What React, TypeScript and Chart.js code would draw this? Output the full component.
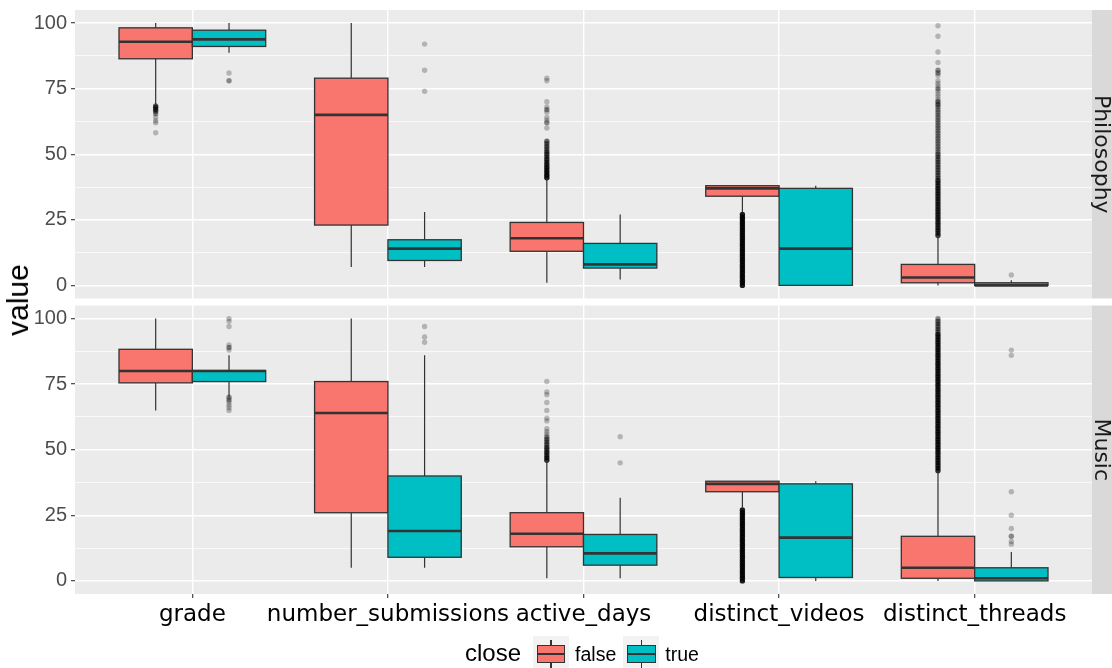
import React, { useEffect, useRef } from 'react';
import { Chart, registerables } from 'chart.js';

Chart.register(...registerables);

// ---------- data ----------
const categories = ['grade', 'number_submissions', 'active_days', 'distinct_videos', 'distinct_threads'];
const facets = ['Philosophy', 'Music'];
const groups = ['false', 'true'];
const yMajorTicks = [0, 25, 50, 75, 100];
const yMinorTicks = [12.5, 37.5, 62.5, 87.5];

// five-number summaries per category: [lower whisker, Q1, median, Q3, upper whisker]
const philosophyFalseStats = [
  [68.8, 86.4, 92.9, 98.2, 100],
  [7, 23, 65, 79, 100],
  [1, 13, 18, 24, 41],
  [28, 34, 37, 38, 38],
  [0, 1, 3, 8, 18.4],
];
const philosophyTrueStats = [
  [88.7, 91.1, 93.8, 97.3, 100],
  [7, 9.5, 14, 17.4, 28],
  [2.2, 6.6, 8, 16, 27],
  [0, 0, 14, 37, 38],
  [0, 0, 0, 1, 2],
];
const musicFalseStats = [
  [65, 75.5, 80, 88.3, 100],
  [5, 26, 64, 76, 100],
  [1, 13, 18, 26, 45.6],
  [28, 34, 37, 38, 38],
  [0, 1, 5, 17, 41.3],
];
const musicTrueStats = [
  [70, 76, 80, 80.2, 86],
  [5, 9, 19, 40, 86],
  [1, 6, 10.5, 17.7, 31.7],
  [0, 1.3, 16.5, 37, 38],
  [0, 0, 1, 5, 11],
];

// outliers per category: [value, number of overlapping observations]
const philosophyFalseOutliers = [
  [[68.4, 3], [67.9, 4], [67.1, 4], [66.4, 3], [65.4, 2], [64.1, 1], [62.8, 1], [62, 1], [58.2, 1]],
  [],
  [[41, 8], [42, 8], [43, 7], [44, 7], [45, 6], [46, 6], [47, 5], [48, 5], [49, 4], [50, 4], [51, 4], [52, 3], [53, 3], [54, 3], [55, 3],
   [60, 1], [62, 2], [63, 1], [64, 1], [66, 1], [67, 2], [68, 1], [70, 1], [78, 1], [79, 1]],
  [[0, 8], [1, 8], [2, 8], [3, 8], [4, 8], [5, 8], [6, 8], [7, 8], [8, 8], [9, 8], [10, 8], [11, 8], [12, 8], [13, 8],
   [14, 8], [15, 8], [16, 8], [17, 8], [18, 8], [19, 8], [20, 8], [21, 8], [22, 8], [23, 8], [24, 8], [25, 8], [26, 8], [27, 8]],
  [[19, 5], [20, 5], [21, 5], [22, 5], [23, 5], [24, 5], [25, 5], [26, 5], [27, 5], [28, 5], [29, 5], [30, 5], [31, 5], [32, 5],
   [33, 5], [34, 5], [35, 5], [36, 5], [37, 5], [38, 5], [39, 5], [40, 5], [41, 3], [42, 3], [43, 3], [44, 3], [45, 3], [46, 3],
   [47, 3], [48, 3], [49, 3], [50, 3], [51, 2], [52, 2], [53, 2], [54, 2], [55, 2], [56, 2], [57, 2], [58, 2], [59, 2], [60, 2],
   [61, 2], [62, 2], [63, 2], [64, 2], [65, 2], [66, 2], [67, 2], [68, 2], [69, 3], [70, 3], [71, 1], [72, 1], [73, 1], [74, 1],
   [75, 2], [76, 1], [77, 1], [78, 1], [80, 1], [81, 2], [82, 2], [85, 1], [89, 1], [95, 1], [99, 1]],
];
const philosophyTrueOutliers = [
  [[81, 1], [78, 2]],
  [[92, 1], [82, 1], [74, 1]],
  [],
  [],
  [[4, 1]],
];
const musicFalseOutliers = [
  [],
  [],
  [[46, 6], [47, 6], [48, 5], [49, 5], [50, 4], [51, 4], [52, 3], [53, 3], [54, 3], [55, 2], [56, 1], [57, 1], [58, 1],
   [61, 1], [62, 1], [65, 1], [68, 1], [71, 1], [72, 1], [76, 1]],
  [[0, 8], [1, 8], [2, 8], [3, 8], [4, 8], [5, 8], [6, 8], [7, 8], [8, 8], [9, 8], [10, 8], [11, 8], [12, 8], [13, 8],
   [14, 8], [15, 8], [16, 8], [17, 8], [18, 8], [19, 8], [20, 8], [21, 8], [22, 8], [23, 8], [24, 8], [25, 8], [26, 8], [27, 8]],
  [[42, 6], [43, 6], [44, 6], [45, 6], [46, 6], [47, 6], [48, 6], [49, 6], [50, 6], [51, 6], [52, 6], [53, 6], [54, 6], [55, 6],
   [56, 6], [57, 6], [58, 6], [59, 6], [60, 6], [61, 6], [62, 6], [63, 6], [64, 6], [65, 6], [66, 6], [67, 6], [68, 6], [69, 6],
   [70, 6], [71, 6], [72, 6], [73, 6], [74, 6], [75, 6], [76, 6], [77, 6], [78, 6], [79, 6], [80, 6], [81, 6], [82, 6], [83, 6],
   [84, 6], [85, 6], [86, 6], [87, 6], [88, 6], [89, 6], [90, 6], [91, 6], [92, 6], [93, 6], [94, 6], [95, 3], [96, 3], [97, 3],
   [98, 3], [99, 3], [100, 2]],
];
const musicTrueOutliers = [
  [[100, 1], [99, 1], [97, 1], [90, 1], [89, 2], [88, 1], [70, 2], [69, 2], [68, 1], [67, 1], [66, 1], [65, 1]],
  [[97, 1], [93, 1], [91, 1]],
  [[55, 1], [45, 1]],
  [],
  [[14, 1], [15, 1], [17, 2], [20, 1], [25, 1], [34, 1], [86, 1], [88, 1]],
];

// ---------- style ----------
const FILL: Record<string, string> = { false: '#F8766D', true: '#00BFC4' };
const PANEL_BG = '#EBEBEB';
const STRIP_BG = '#D9D9D9';
const LINE = '#333333';
const BOX_WIDTH = 0.75; // in category units, split between the two groups
const PANEL_MIN = -5;
const PANEL_MAX = 105;
const GAP_UNITS = 2.67;
const STRIP_W = 20;
const SANS = '"Liberation Sans", Arial, sans-serif';
const DEJAVU = '"DejaVu Sans", sans-serif';

const facetAxis: Record<string, string> = { Philosophy: 'yPhil', Music: 'yMusic' };
const statsFor: Record<string, number[][]> = {
  'Philosophy|false': philosophyFalseStats,
  'Philosophy|true': philosophyTrueStats,
  'Music|false': musicFalseStats,
  'Music|true': musicTrueStats,
};
const outliersFor: Record<string, number[][][]> = {
  'Philosophy|false': philosophyFalseOutliers,
  'Philosophy|true': philosophyTrueOutliers,
  'Music|false': musicFalseOutliers,
  'Music|true': musicTrueOutliers,
};
const dodge = (g: number) => (g === 0 ? -1 : 1) * BOX_WIDTH / 4;

function buildDatasets() {
  const ds: any[] = [];
  facets.forEach((f) => {
    groups.forEach((g, gi) => {
      const outs = outliersFor[`${f}|${g}`];
      const pts: any[] = [];
      const cols: string[] = [];
      outs.forEach((list, ci) => {
        list.forEach(([v, n]) => {
          pts.push({ x: ci + 1 + dodge(gi), y: v });
          cols.push(`rgba(0,0,0,${(1 - Math.pow(0.76, n)).toFixed(3)})`);
        });
      });
      ds.push({
        label: `${f} ${g}`,
        data: pts,
        xAxisID: 'x',
        yAxisID: facetAxis[f],
        pointRadius: 2.7,
        pointHoverRadius: 2.7,
        pointBorderWidth: 0,
        pointBackgroundColor: cols,
        pointBorderColor: cols,
      });
    });
  });
  return ds;
}

const facetPlugin = {
  id: 'facetBoxes',
  beforeDraw(chart: any) {
    const { ctx, chartArea } = chart;
    facets.forEach((f) => {
      const s = chart.scales[facetAxis[f]];
      const top = s.getPixelForValue(PANEL_MAX);
      const bottom = s.getPixelForValue(PANEL_MIN);
      ctx.save();
      ctx.fillStyle = PANEL_BG;
      ctx.fillRect(chartArea.left, top, chartArea.right - chartArea.left, bottom - top);
      ctx.fillStyle = STRIP_BG;
      ctx.fillRect(chartArea.right, top, STRIP_W, bottom - top);
      ctx.translate(chartArea.right + STRIP_W / 2, (top + bottom) / 2);
      ctx.rotate(Math.PI / 2);
      ctx.fillStyle = '#1A1A1A';
      ctx.font = `22px ${DEJAVU}`;
      ctx.textAlign = 'center';
      ctx.textBaseline = 'middle';
      ctx.fillText(f, 0, 1);
      ctx.restore();
    });
  },
  afterDatasetsDraw(chart: any) {
    const { ctx } = chart;
    const xs = chart.scales.x;
    const half = (xs.getPixelForValue(BOX_WIDTH / 4) - xs.getPixelForValue(0));
    facets.forEach((f) => {
      const ys = chart.scales[facetAxis[f]];
      groups.forEach((g, gi) => {
        const stats = statsFor[`${f}|${g}`];
        stats.forEach(([lo, q1, med, q3, hi], ci) => {
          const xc = xs.getPixelForValue(ci + 1 + dodge(gi));
          const yLo = ys.getPixelForValue(lo);
          const yQ1 = ys.getPixelForValue(q1);
          const yMed = ys.getPixelForValue(med);
          const yQ3 = ys.getPixelForValue(q3);
          const yHi = ys.getPixelForValue(hi);
          ctx.save();
          ctx.strokeStyle = LINE;
          ctx.lineWidth = 1.2;
          ctx.beginPath();
          ctx.moveTo(xc, yHi);
          ctx.lineTo(xc, yQ3);
          ctx.moveTo(xc, yQ1);
          ctx.lineTo(xc, yLo);
          ctx.stroke();
          ctx.fillStyle = FILL[g];
          ctx.fillRect(xc - half, yQ3, 2 * half, yQ1 - yQ3);
          ctx.lineWidth = 1.3;
          ctx.strokeRect(xc - half, yQ3, 2 * half, yQ1 - yQ3);
          ctx.lineWidth = 2.6;
          ctx.beginPath();
          ctx.moveTo(xc - half, yMed);
          ctx.lineTo(xc + half, yMed);
          ctx.stroke();
          ctx.restore();
        });
      });
    });
  },
};

const isMajor = (v: number) => yMajorTicks.includes(v);

const noPadding = (axis: any) => {
  axis.paddingTop = 0;
  axis.paddingBottom = 0;
  axis.paddingLeft = 0;
  axis.paddingRight = 0;
};

function yScale(min: number, max: number) {
  return {
    type: 'linear',
    position: 'left',
    stack: 'facets',
    stackWeight: max - min,
    min,
    max,
    border: { display: false },
    afterBuildTicks: (axis: any) => {
      axis.ticks = [...yMajorTicks, ...yMinorTicks].sort((a, b) => a - b).map((v) => ({ value: v }));
    },
    afterFit: (axis: any) => {
      axis.width = 75;
      noPadding(axis);
    },
    grid: {
      color: '#FFFFFF',
      lineWidth: (c: any) => (c.tick && isMajor(c.tick.value) ? 1.4 : 0.7),
      tickColor: (c: any) => (c.tick && isMajor(c.tick.value) ? LINE : 'rgba(0,0,0,0)'),
      tickLength: 4,
      tickWidth: 1.1,
    },
    ticks: {
      autoSkip: false,
      padding: 4,
      color: '#4D4D4D',
      font: { family: SANS, size: 20 },
      callback: (v: number) => (isMajor(v) ? String(v) : ''),
    },
  };
}

function BoxplotChart() {
  const ref = useRef<HTMLCanvasElement | null>(null);
  useEffect(() => {
    if (!ref.current) return;
    const chart = new Chart(ref.current, {
      type: 'scatter',
      data: { datasets: buildDatasets() },
      options: {
        animation: false,
        responsive: false,
        maintainAspectRatio: false,
        events: [],
        layout: { padding: { left: 0, top: 10, right: STRIP_W, bottom: 0 } },
        plugins: { legend: { display: false }, tooltip: { enabled: false } },
        scales: {
          x: {
            type: 'linear',
            position: 'bottom',
            min: 0.4,
            max: 5.6,
            border: { display: false },
            afterBuildTicks: (axis: any) => {
              axis.ticks = categories.map((_, i) => ({ value: i + 1 }));
            },
            afterFit: (axis: any) => {
              axis.height = 74;
              noPadding(axis);
            },
            grid: { color: '#FFFFFF', lineWidth: 1.4, tickColor: LINE, tickLength: 4, tickWidth: 1.1 },
            ticks: {
              autoSkip: false,
              maxRotation: 0,
              padding: 3,
              color: '#000000',
              font: { family: DEJAVU, size: 23 },
              callback: (v: number) => categories[v - 1],
            },
          },
          yMusic: yScale(PANEL_MIN, PANEL_MAX),
          yPhil: yScale(PANEL_MIN - GAP_UNITS, PANEL_MAX),
        } as any,
      },
      plugins: [facetPlugin],
    } as any);
    return () => chart.destroy();
  }, []);
  return <canvas ref={ref} width={1112} height={668} style={{ display: 'block' }} />;
}

function LegendKey({ color }: { color: string }) {
  return (
    <div style={{ position: 'relative', width: 36, height: 36, background: '#F2F2F2', flex: '0 0 auto' }}>
      <div style={{ position: 'absolute', left: 17.4, top: 3.6, width: 1.2, height: 28.8, background: LINE }} />
      <div
        style={{
          position: 'absolute', left: 3.6, top: 9, width: 28.8, height: 18, background: color,
          border: `1.3px solid ${LINE}`, boxSizing: 'border-box',
        }}
      />
      <div style={{ position: 'absolute', left: 3.6, top: 16.8, width: 28.8, height: 2.4, background: LINE }} />
    </div>
  );
}

export default function App() {
  return (
    <div style={{ position: 'absolute', left: 0, top: 0, width: 1112, height: 668, overflow: 'hidden', background: '#FFFFFF' }}>
      <BoxplotChart />
      <div
        style={{
          position: 'absolute', left: 18, top: 300, transform: 'translate(-50%, -50%) rotate(-90deg)',
          fontFamily: SANS, fontSize: 30, color: '#000000', whiteSpace: 'nowrap', lineHeight: 1,
        }}
      >
        value
      </div>
      <div
        style={{
          position: 'absolute', left: 465, top: 636, height: 36, display: 'flex', alignItems: 'center',
          fontFamily: SANS, color: '#000000', whiteSpace: 'nowrap',
        }}
      >
        <span style={{ fontSize: 24, marginRight: 12, marginTop: -2 }}>close</span>
        <LegendKey color={FILL['false']} />
        <span style={{ fontSize: 19.5, marginLeft: 6, marginRight: 7 }}>false</span>
        <LegendKey color={FILL['true']} />
        <span style={{ fontSize: 19.5, marginLeft: 6 }}>true</span>
      </div>
    </div>
  );
}
